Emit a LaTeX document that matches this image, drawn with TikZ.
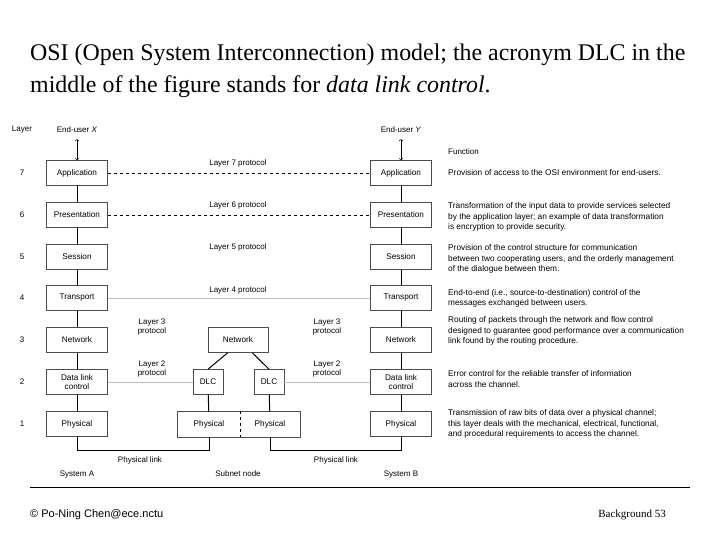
\documentclass[tikz,border=0pt]{standalone}
\usepackage{fontspec}
\setmainfont{Liberation Serif}
\newfontfamily\dsans{Liberation Sans}
\begin{document}
\begin{tikzpicture}[x=1pt,y=-1pt,
 lay/.style={draw=black!70,line width=0.6pt,minimum width=61pt,minimum height=25pt,inner sep=0pt,font=\dsans\fontsize{8.2}{9.5}\selectfont,align=center},
 sm/.style={font=\dsans\fontsize{8}{9.5}\selectfont,inner sep=0pt},
 desc/.style={font=\dsans\fontsize{8.3}{10.2}\selectfont,inner sep=0pt,anchor=west,align=left},
 ln/.style={line width=1pt},
 prot/.style={dashed,line width=0.6pt},
 faint/.style={black!25,line width=0.5pt}]
\useasboundingbox (0,0) rectangle (720,540);
\node[anchor=west,font=\fontsize{23.9}{32}\selectfont,inner sep=0pt,align=left] (title) at (30,71) {OSI (Open System Interconnection) model; the acronym DLC in the\\middle of the figure stands for \textit{data link control}.};
\node[sm] (hl) at (22,130) {Layer};
\node[sm] (ux) at (77,130) {End-user \textit{X}};
\node[sm] (uy) at (401,130) {End-user \textit{Y}};
\node[sm,anchor=west] (fn) at (448,152) {Function};
\foreach \n/\y/\t in {7/173/Application,6/215/Presentation,5/257/Session,4/298/Transport,3/340/Network,2/382/{Data link\\control},1/424/Physical}{
 \node[sm] (n\n) at (22,\y) {\n};
 \node[lay] (a\n) at (77,\y) {\t};
 \node[lay] (b\n) at (401,\y) {\t};
}
\foreach \i/\j in {7/6,6/5,5/4,4/3,3/2,2/1}{
 \draw[ln] (a\i) -- (a\j); \draw[ln] (b\i) -- (b\j);}
\draw[<->,line width=0.5pt] (ux.south)++(0,6) coordinate (ux1) -- (a7.north);
\draw[<->,line width=0.5pt] (uy.south)++(0,6) coordinate (uy1) -- (b7.north);
\draw[prot] (a7) -- (b7); \draw[prot] (a6) -- (b6);
\draw[faint] (a4) -- (b4);
\node[sm] (p7) at (238,163) {Layer 7 protocol};
\node[sm] (p6) at (238,205) {Layer 6 protocol};
\node[sm] (p5) at (238,247) {Layer 5 protocol};
\node[sm] (p4) at (238,290) {Layer 4 protocol};
\node[sm,align=center] (p3a) at (152,327) {Layer 3\\protocol};
\node[sm,align=center] (p3b) at (327,327) {Layer 3\\protocol};
\node[sm,align=center] (p2a) at (152,369) {Layer 2\\protocol};
\node[sm,align=center] (p2b) at (327,369) {Layer 2\\protocol};
\node[lay,minimum width=60pt] (sn) at (238,340) {Network};
\node[lay,minimum width=30pt] (d1) at (208,382) {DLC};
\node[lay,minimum width=30pt] (d2) at (269,382) {DLC};
\node[lay,minimum width=62pt,draw=none] (ph1) at (209,424) {Physical};
\node[lay,minimum width=60pt,draw=none] (ph2) at (270,424) {Physical};
\draw[black!70,line width=0.6pt] (ph1.north east) -- (ph1.north west) -- (ph1.south west) -- (ph1.south east) -- (ph2.south east) -- (ph2.north east) -- (ph2.north west);
\draw[dashed,line width=0.6pt] (ph1.north east) -- (ph1.south east);
\draw[faint] (a2) -- (d1); \draw[faint] (d2) -- (b2);
\draw[ln] (sn.south west)++(20,0) coordinate (s1) -- (d1.north);
\draw[ln] (sn.south east)++(-16,0) coordinate (s2) -- (d2.north);
\draw[ln] (d1) -- (ph1); \draw[ln] (d2) -- (ph2);
\coordinate (c1) at (77,450); \coordinate (c2) at (209,450);
\coordinate (c3) at (270,450); \coordinate (c4) at (401,450);
\draw[ln] (a1.south) -- (c1) -- (c2) -- (ph1.south);
\draw[ln] (ph2.south) -- (c3) -- (c4) -- (b1.south);
\node[sm] (pl1) at (140,460) {Physical link};
\node[sm] (pl2) at (336,460) {Physical link};
\node[sm,anchor=base] (sa) at (77,476) {System A};
\node[sm,anchor=base] (sb) at (238,476) {Subnet node};
\node[sm,anchor=base] (sc) at (401,476) {System B};
\node[desc] (f7) at (448,173) {Provision of access to the OSI environment for end-users.};
\node[desc] (f6) at (448,217) {Transformation of the input data to provide services selected\\by the application layer; an example of data transformation\\is encryption to provide security.};
\node[desc] (f5) at (448,259) {Provision of the control structure for communication\\between two cooperating users, and the orderly management\\of the dialogue between them.};
\node[desc] (f4) at (448,298) {End-to-end (i.e., source-to-destination) control of the\\messages exchanged between users.};
\node[desc] (f3) at (448,331) {Routing of packets through the network and flow control\\designed to guarantee good performance over a communication\\link found by the routing procedure.};
\node[desc] (f2) at (448,379) {Error control for the reliable transfer of information\\across the channel.};
\node[desc] (f1) at (448,424) {Transmission of raw bits of data over a physical channel;\\this layer deals with the mechanical, electrical, functional,\\and procedural requirements to access the channel.};
\coordinate (r1) at (30,487); \coordinate (r2) at (690,487);
\draw[line width=0.8pt] (r1) -- (r2);
\node[anchor=west,font=\dsans\fontsize{11}{13}\selectfont,inner sep=0pt] (ft) at (30,515) {© Po-Ning Chen@ece.nctu};
\node[anchor=east,font=\fontsize{11}{13}\selectfont,inner sep=0pt] (bg) at (666,515) {Background 53};
\end{tikzpicture}
\end{document}
